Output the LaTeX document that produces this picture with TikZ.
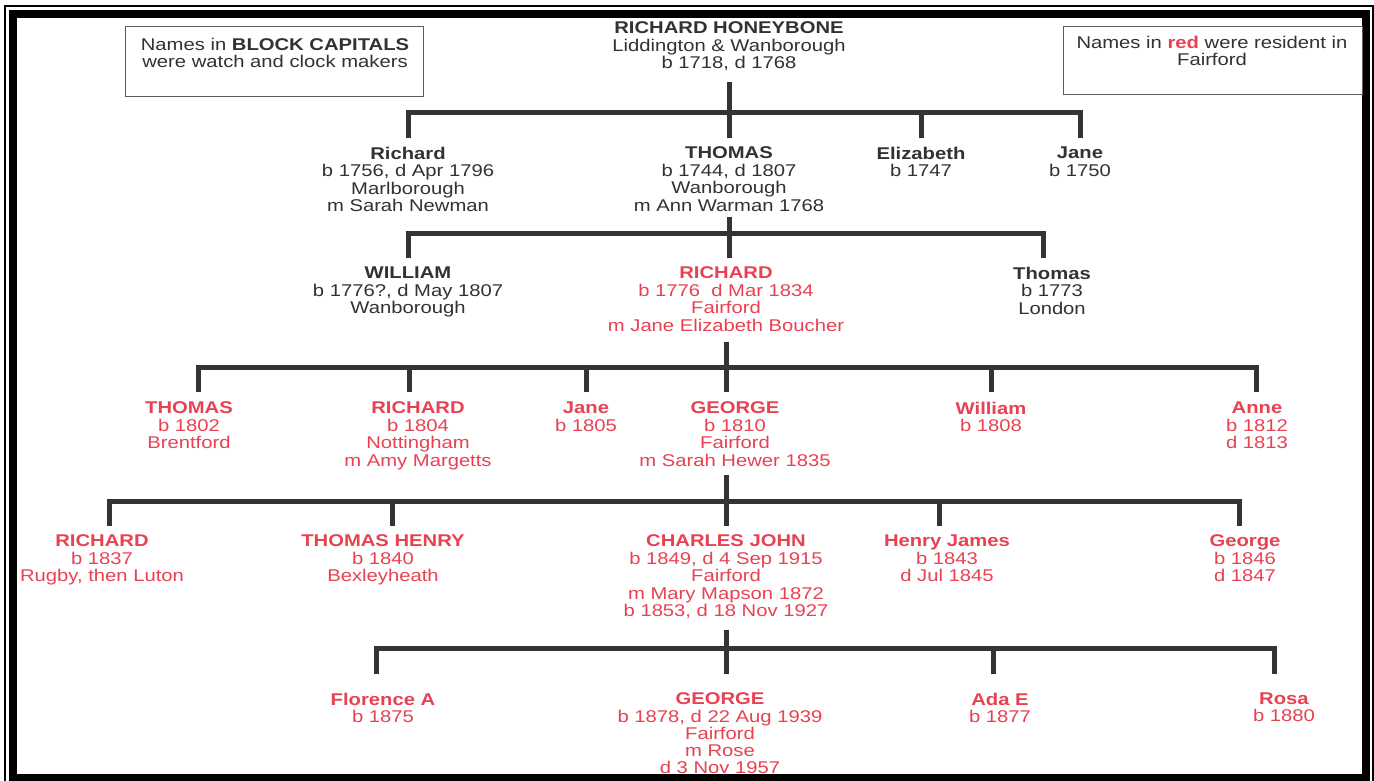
\documentclass[tikz,border=0pt]{standalone}
\usepackage{fontspec}
\setmainfont{Liberation Sans}[FakeStretch=1.19]
\definecolor{ink}{RGB}{50,50,50}
\definecolor{fred}{RGB}{232,66,82}
\definecolor{barc}{RGB}{52,52,52}
\begin{document}
\begin{tikzpicture}[x=1pt,y=-1pt,
  every node/.style={inner sep=0pt,outer sep=0pt,align=center,anchor=north,
    font=\fontsize{17}{17.5}\selectfont},
  dk/.style={text=ink},
  rd/.style={text=fred},
  tight/.style={font=\fontsize{17}{17.2}\selectfont},
  bar/.style={draw=barc,line width=5pt,line join=miter,line cap=butt},
  legend/.style={draw=ink!80,line width=1pt},
  frameline/.style={draw=black,line width=8pt}]
\useasboundingbox (0,0) rectangle (1374,781);
\begin{scope}
\clip (0,0) rectangle (1374,781);
\fill[white] (0,0) rectangle (1374,781);
\draw[black,line width=1.5pt] (5,6) rectangle (1373,800);
\draw[frameline] (13,14.5) rectangle (1366,778);
\end{scope}

% legends
\draw[legend] (125,27) rectangle (423,97);
\node[dk] (leg1) at (275,38) {Names in \textbf{BLOCK CAPITALS}\\were watch and clock makers};
\draw[legend] (1063,27) rectangle (1362,95);
\node[dk] (leg2) at (1212,36) {Names in \textbf{\color{fred}red} were resident in\\Fairford};

% level 0
\node[dk] (hon) at (729,22) {\textbf{RICHARD HONEYBONE}\\Liddington \& Wanborough\\b 1718, d 1768};
% level 1
\node[dk] (rich1) at (408,147) {\textbf{Richard}\\b 1756, d Apr 1796\\Marlborough\\m Sarah Newman};
\node[dk] (thom1) at (729,147) {\textbf{THOMAS}\\b 1744, d 1807\\Wanborough\\m Ann Warman 1768};
\node[dk] (eliz1) at (921,147) {\textbf{Elizabeth}\\b 1747};
\node[dk] (jane1) at (1080,147) {\textbf{Jane}\\b 1750};
% level 2
\node[dk] (will2) at (408,267) {\textbf{WILLIAM}\\b 1776?, d May 1807\\Wanborough};
\node[rd] (rich2) at (726,267) {\textbf{RICHARD}\\b 1776\ \ d Mar 1834\\Fairford\\m Jane Elizabeth Boucher};
\node[dk] (thom2) at (1052,267) {\textbf{Thomas}\\b 1773\\London};
% level 3
\node[rd] (thom3) at (189,402) {\textbf{THOMAS}\\b 1802\\Brentford};
\node[rd] (rich3) at (418,402) {\textbf{RICHARD}\\b 1804\\Nottingham\\m Amy Margetts};
\node[rd] (jane3) at (586,402) {\textbf{Jane}\\b 1805};
\node[rd] (geor3) at (735,402) {\textbf{GEORGE}\\b 1810\\Fairford\\m Sarah Hewer 1835};
\node[rd] (will3) at (991,402) {\textbf{William}\\b 1808};
\node[rd] (anne3) at (1257,402) {\textbf{Anne}\\b 1812\\d 1813};
% level 4
\node[rd] (rich4) at (102,535) {\textbf{RICHARD}\\b 1837\\Rugby, then Luton};
\node[rd] (thhe4) at (383,535) {\textbf{THOMAS HENRY}\\b 1840\\Bexleyheath};
\node[rd] (chjo4) at (726,535) {\textbf{CHARLES JOHN}\\b 1849, d 4 Sep 1915\\Fairford\\m Mary Mapson 1872\\b 1853, d 18 Nov 1927};
\node[rd] (hnja4) at (947,535) {\textbf{Henry James}\\b 1843\\d Jul 1845};
\node[rd] (geor4) at (1245,535) {\textbf{George}\\b 1846\\d 1847};
% level 5
\node[rd,tight] (flor5) at (383,693) {\textbf{Florence A}\\b 1875};
\node[rd,tight] (geor5) at (720,693) {\textbf{GEORGE}\\b 1878, d 22 Aug 1939\\Fairford\\m Rose\\d 3 Nov 1957};
\node[rd,tight] (ada5) at (1000,693) {\textbf{Ada E}\\b 1877};
\node[rd,tight] (rosa5) at (1284,693) {\textbf{Rosa}\\b 1880};

% connector end points
\coordinate (p0) at (729,82);
\coordinate (d0a) at (408,138);
\coordinate (d0b) at (729,138);
\coordinate (d0c) at (921,138);
\coordinate (d0d) at (1080,138);

\coordinate (p1) at (729,217);
\coordinate (d1a) at (408,258);
\coordinate (d1b) at (729,258);
\coordinate (d1c) at (1043,258);

\coordinate (p2) at (726,342);
\coordinate (d2a) at (198,392);
\coordinate (d2b) at (409,392);
\coordinate (d2c) at (586,392);
\coordinate (d2d) at (726,392);
\coordinate (d2e) at (991,392);
\coordinate (d2f) at (1256,392);

\coordinate (p3) at (726,475);
\coordinate (d3a) at (109,526);
\coordinate (d3b) at (392,526);
\coordinate (d3c) at (726,526);
\coordinate (d3d) at (939,526);
\coordinate (d3e) at (1239,526);

\coordinate (p4) at (726,630);
\coordinate (d4a) at (376,674);
\coordinate (d4b) at (726,674);
\coordinate (d4c) at (993,674);
\coordinate (d4d) at (1274,674);

% family 0
\draw[bar] (d0a) -- ++(0,-25.5) -| (d0d);
\draw[bar] (p0) -- (d0b);
\draw[bar] (d0c) -- ++(0,-25.5);
% family 1
\draw[bar] (d1a) -- ++(0,-25) -| (d1c);
\draw[bar] (p1) -- (d1b);
% family 2
\draw[bar] (d2a) -- ++(0,-25) -| (d2f);
\draw[bar] (p2) -- (d2d);
\draw[bar] (d2b) -- ++(0,-25);
\draw[bar] (d2c) -- ++(0,-25);
\draw[bar] (d2e) -- ++(0,-25);
% family 3
\draw[bar] (d3a) -- ++(0,-25) -| (d3e);
\draw[bar] (p3) -- (d3c);
\draw[bar] (d3b) -- ++(0,-25);
\draw[bar] (d3d) -- ++(0,-25);
% family 4
\draw[bar] (d4a) -- ++(0,-26) -| (d4d);
\draw[bar] (p4) -- (d4b);
\draw[bar] (d4c) -- ++(0,-26);
\end{tikzpicture}
\end{document}
